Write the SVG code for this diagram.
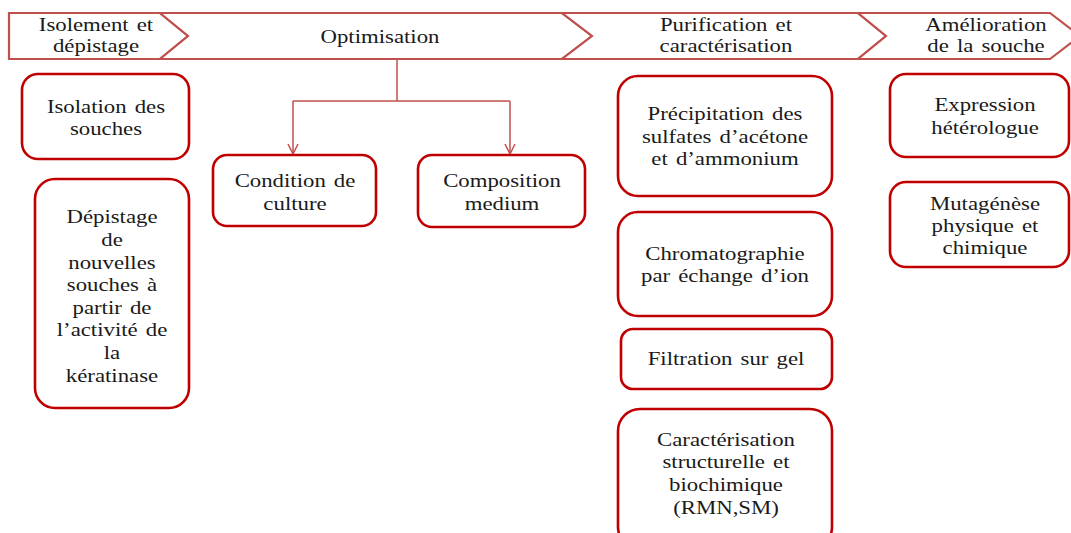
<svg xmlns="http://www.w3.org/2000/svg" width="1071" height="533" viewBox="0 0 1071 533">
<style>
.chev{fill:#fff;stroke:#c0504d;stroke-width:2.2;stroke-linejoin:miter}
.box{fill:#fff;stroke:#c00000;stroke-width:2.6}
.t{font-family:"Liberation Serif","Times New Roman",serif;font-size:19px;fill:#1a1a1a;text-anchor:middle;word-spacing:2px}
.conn{fill:none;stroke:#c0504d;stroke-width:1.5}
</style>
<defs>
<marker id="arr" viewBox="0 0 12 12" refX="11" refY="6" markerWidth="12" markerHeight="12" markerUnits="userSpaceOnUse" orient="auto">
<path d="M1,1 L11,6 L1,11" fill="none" stroke="#c0504d" stroke-width="1.5"/>
</marker>
</defs>
<rect width="1071" height="533" fill="#fff"/>

<g id="phase-isolement">
<path class="chev" d="M9,13 L160,13 L188,36 L160,59 L9,59 Z"/>
<g transform="translate(96 0) scale(1.2 1)"><text class="t" x="0" y="31">Isolement et</text><text class="t" x="0" y="52">dépistage</text></g>
</g>
<g id="phase-optimisation">
<path class="chev" d="M160,13 L562,13 L592,36 L562,59 L160,59 L188,36 Z"/>
<g transform="translate(380 0) scale(1.2 1)"><text class="t" x="0" y="43">Optimisation</text></g>
</g>
<g id="phase-purification">
<path class="chev" d="M562,13 L858,13 L886,36 L858,59 L562,59 L592,36 Z"/>
<g transform="translate(726 0) scale(1.2 1)"><text class="t" x="0" y="31">Purification et</text><text class="t" x="0" y="52">caractérisation</text></g>
</g>
<g id="phase-amelioration">
<path class="chev" d="M858,13 L1050,13 L1080,36 L1050,59 L858,59 L886,36 Z"/>
<g transform="translate(986 0) scale(1.2 1)"><text class="t" x="0" y="31">Amélioration</text><text class="t" x="0" y="52">de la souche</text></g>
</g>

<g id="connectors">
<path class="conn" d="M397,60 L397,101"/>
<path class="conn" d="M293,101 L510,101"/>
<path class="conn" d="M293,101 L293,154" marker-end="url(#arr)"/>
<path class="conn" d="M510,101 L510,154" marker-end="url(#arr)"/>
</g>

<g id="isolation-souches">
<rect class="box" x="22" y="74" width="167" height="85" rx="16"/>
<g transform="translate(106 0) scale(1.2 1)"><text class="t" x="0" y="113">Isolation des</text><text class="t" x="0" y="135">souches</text></g>
</g>
<g id="depistage">
<rect class="box" x="35" y="179" width="154" height="229" rx="20"/>
<g transform="translate(112 0) scale(1.2 1)">
<text class="t" x="0" y="223">Dépistage</text>
<text class="t" x="0" y="246">de</text>
<text class="t" x="0" y="269">nouvelles</text>
<text class="t" x="0" y="291">souches à</text>
<text class="t" x="0" y="314">partir de</text>
<text class="t" x="0" y="336">l’activité de</text>
<text class="t" x="0" y="359">la</text>
<text class="t" x="0" y="382">kératinase</text>
</g>
</g>
<g id="condition-culture">
<rect class="box" x="213" y="155" width="163" height="71" rx="14"/>
<g transform="translate(295 0) scale(1.2 1)"><text class="t" x="0" y="187">Condition de</text><text class="t" x="0" y="210">culture</text></g>
</g>
<g id="composition-medium">
<rect class="box" x="418" y="155" width="167" height="72" rx="14"/>
<g transform="translate(502 0) scale(1.2 1)"><text class="t" x="0" y="187">Composition</text><text class="t" x="0" y="210">medium</text></g>
</g>
<g id="precipitation">
<rect class="box" x="618" y="76" width="214" height="120" rx="20"/>
<g transform="translate(725 0) scale(1.2 1)"><text class="t" x="0" y="120">Précipitation des</text><text class="t" x="0" y="143">sulfates d’acétone</text><text class="t" x="0" y="165">et d’ammonium</text></g>
</g>
<g id="chromatographie">
<rect class="box" x="618" y="212" width="214" height="104" rx="20"/>
<g transform="translate(725 0) scale(1.2 1)"><text class="t" x="0" y="260">Chromatographie</text><text class="t" x="0" y="282">par échange d’ion</text></g>
</g>
<g id="filtration">
<rect class="box" x="621" y="329" width="211" height="60" rx="12"/>
<g transform="translate(726 0) scale(1.2 1)"><text class="t" x="0" y="365">Filtration sur gel</text></g>
</g>
<g id="caracterisation">
<rect class="box" x="618" y="409" width="214" height="140" rx="22"/>
<g transform="translate(726 0) scale(1.2 1)"><text class="t" x="0" y="446">Caractérisation</text><text class="t" x="0" y="468">structurelle et</text><text class="t" x="0" y="491">biochimique</text><text class="t" x="0" y="514">(RMN,SM)</text></g>
</g>
<g id="expression">
<rect class="box" x="890" y="74" width="179" height="83" rx="16"/>
<g transform="translate(985 0) scale(1.2 1)"><text class="t" x="0" y="111">Expression</text><text class="t" x="0" y="134">hétérologue</text></g>
</g>
<g id="mutagenese">
<rect class="box" x="890" y="182" width="179" height="85" rx="16"/>
<g transform="translate(985 0) scale(1.2 1)"><text class="t" x="0" y="210">Mutagénèse</text><text class="t" x="0" y="232">physique et</text><text class="t" x="0" y="254">chimique</text></g>
</g>
</svg>
